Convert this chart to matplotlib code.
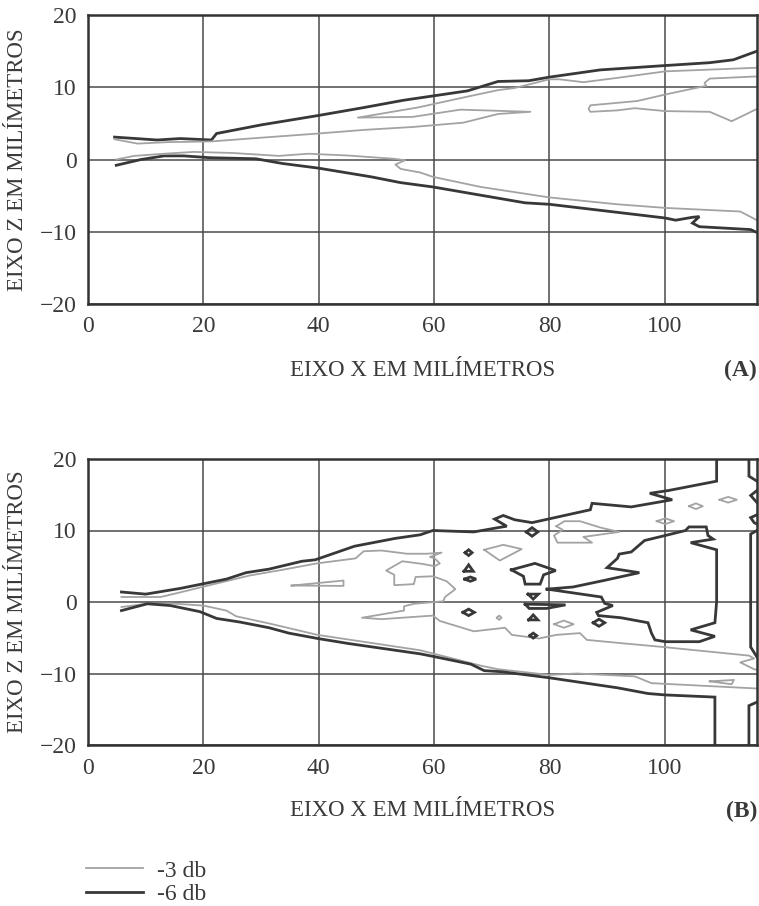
import matplotlib
matplotlib.use("Agg")
import matplotlib.pyplot as plt
from matplotlib.lines import Line2D
import numpy as np

plt.rcParams['font.family'] = ['Liberation Serif', 'DejaVu Serif']

# ---------------- data (x mm, z mm) ----------------
x_ticks = [0, 20, 40, 60, 80, 100]
z_ticks = [-20, -10, 0, 10, 20]
x_label = "EIXO X EM MILÍMETROS"
z_label = "EIXO Z EM MILÍMETROS"
legend_labels = ["-3 db", "-6 db"]

# Panel A
A_m6_upper = [(4.6, 3.1), (12, 2.7), (16, 2.9), (21.4, 2.7), (22.3, 3.6), (30.1, 4.8), (40, 6.1),
              (47.9, 7.2), (54.7, 8.2), (60.7, 8.9), (65.8, 9.5), (71.1, 10.8), (76.4, 10.9),
              (80, 11.4), (88.8, 12.4), (100, 13.0), (107.8, 13.4), (111.9, 13.8), (116, 15.0)]
A_m6_lower = [(4.9, -0.8), (9.2, 0), (13.2, 0.5), (16.6, 0.5), (21.1, 0.25), (29.1, 0.1), (33.7, -0.55),
              (40, -1.2), (49.1, -2.4), (54.2, -3.2), (59.8, -3.8), (75.8, -6.0), (80, -6.2),
              (100.1, -8.1), (101.9, -8.4), (104.8, -8.0), (106, -7.9), (104.8, -8.8), (106, -9.3),
              (114.9, -9.7), (116, -10.1)]
A_m3_upper = [(4.6, 2.8), (8.6, 2.2), (13.7, 2.4), (21.4, 2.5), (28, 2.9), (40, 3.6), (47.9, 4.1),
              (56.3, 4.5), (65.1, 5.1), (71.1, 6.3), (76.7, 6.6), (64.6, 6.9), (56.3, 5.9),
              (46.8, 5.8), (57.2, 7.2), (65.2, 8.6), (71.1, 9.6), (74, 9.9), (80, 11.1),
              (81.7, 11.1), (85.9, 10.7), (91.8, 11.3), (100.1, 12.2), (116, 12.7)]
A_m3_inner = [(116, 11.5), (107.8, 11.2), (106.9, 10.6), (107.2, 10.2), (100.1, 9.0), (95.3, 8.1),
              (87.1, 7.5), (86.8, 7.0), (87.1, 6.6), (91.8, 6.8), (94.8, 7.1), (100.1, 6.7),
              (107.8, 6.6), (111.6, 5.3), (116, 7.0)]
A_m3_lower = [(4.9, 0), (8, 0.5), (13.2, 0.8), (18.3, 1.05), (25.1, 0.9), (33.1, 0.5), (38.2, 0.8),
              (45.1, 0.55), (53, 0.1), (55, -0.1), (53.3, -0.7), (54.2, -1.3), (57.6, -1.8),
              (59.8, -2.4), (68.1, -3.8), (80, -5.25), (91.8, -6.2), (100.1, -6.7), (113.1, -7.2),
              (116, -8.4)]

# Panel B
B_m6_upper = [(5.8, 1.4), (10, 1.1), (16, 1.9), (20.3, 2.6), (24, 3.2), (27.4, 4.1), (31.4, 4.6),
              (37.1, 5.7), (39.4, 5.9), (46.2, 7.8), (53.3, 8.9), (57.6, 9.4), (59.8, 10.0),
              (66.9, 9.8), (71.1, 10.4), (72.6, 10.6), (70.5, 11.6), (72, 12.1), (74, 11.5),
              (77, 11.1), (87.1, 12.9), (87.4, 13.8), (94.2, 13.3), (101.3, 14.3), (97.4, 15.2),
              (100.7, 15.6), (109, 16.9), (109, 20)]
B_m6_lower = [(5.8, -1.2), (10.3, -0.25), (14.3, -0.5), (19.4, -1.35), (22.3, -2.3), (26.3, -2.8),
              (31.4, -3.6), (34.8, -4.35), (39.8, -5.1), (45.1, -5.8), (57.6, -7.25), (59.8, -7.6),
              (66.4, -8.7), (68.7, -9.6), (71.7, -9.75), (80, -10.6), (91.8, -12.0), (97.1, -12.8),
              (100.1, -13.0), (108.7, -13.3), (108.7, -20)]
B_m6_core = [(79.6, 1.8), (89, 0.7), (89.6, -0.2), (91, -0.5), (88.2, -1.45), (88.5, -1.9),
             (92.4, -2.2), (97.1, -2.9), (97.7, -4.35), (98.3, -5.3), (100.1, -5.55), (106, -5.55),
             (108.7, -4.8), (104.5, -3.9), (108.7, -2.9), (109, 0.05), (109, 7.3), (104.5, 8.3),
             (108.4, 8.8), (107.5, 9.3), (107.2, 10.5), (104.2, 10.5), (103.6, 10.0), (100.1, 9.3),
             (96.5, 8.6), (94.2, 7.0), (92.1, 6.7), (91.8, 6.1), (90, 4.8), (95.6, 4.1), (89.4, 3.0),
             (84.1, 2.1), (79.6, 1.8)]
B_m6_edge1 = [(114.6, 20), (114.6, 17.6), (116, 16.9)]
B_m6_edge2 = [(116, 15.6), (114.9, 14.9), (116, 13.9)]
B_m6_edge3 = [(116, 12.2), (114.9, 11.8), (115.5, 11.1), (116, 10.9)]
B_m6_edge4 = [(116, 10.0), (114.9, 9.5), (114.9, -6.3), (116, -7.7)]
B_m6_edge5 = [(116, -14.0), (114.6, -14.5), (114.6, -20)]
B_m6_isl1 = [(65.4, 6.9), (66.0, 7.3), (66.6, 6.9), (66.0, 6.5), (65.4, 6.9)]
B_m6_isl2 = [(65.2, 4.3), (66.0, 5.2), (66.8, 4.3), (65.2, 4.3)]
B_m6_isl3 = [(65.3, 3.2), (66.3, 3.5), (67.3, 3.2), (66.3, 2.9), (65.3, 3.2)]
B_m6_isl4 = [(65.0, -1.45), (66.0, -1.0), (67.0, -1.45), (66.0, -1.9), (65.0, -1.45)]
B_m6_isl5 = [(76.0, 9.8), (77.0, 10.4), (78.0, 9.8), (77.0, 9.2), (76.0, 9.8)]
B_m6_isl6 = [(73.4, 4.5), (77.5, 5.4), (81.1, 4.4), (79.0, 3.8), (78.4, 2.5), (75.8, 2.5),
             (75.5, 3.6), (73.4, 4.5)]
B_m6_isl7 = [(76.3, 1.1), (78.1, 1.1), (77.2, 0.4), (76.3, 1.1)]
B_m6_isl8 = [(75.8, -0.3), (82.8, -0.4), (79.5, -0.9), (76.5, -0.9), (75.8, -0.3)]
B_m6_isl9 = [(76.4, -2.5), (77.2, -1.8), (78.0, -2.5), (76.4, -2.5)]
B_m6_isl10 = [(76.6, -4.7), (77.2, -4.35), (77.8, -4.7), (77.2, -5.05), (76.6, -4.7)]
B_m6_isl11 = [(87.6, -2.9), (88.6, -2.4), (89.6, -2.9), (88.6, -3.4), (87.6, -2.9)]

B_m3_main = [(5.8, 0.7), (12.6, 0.7), (16, 1.35), (20.3, 2.2), (28, 3.7), (33.7, 4.5), (39.7, 5.4),
             (46.4, 6.1), (47.8, 7.1), (50.9, 7.2), (55.3, 6.75), (58.7, 6.75), (61.3, 6.9),
             (59.3, 6.3), (60.1, 6.1), (61, 5.4), (60.1, 5.0), (58.2, 5.3), (54.5, 5.7), (51.7, 4.4),
             (53.1, 3.8), (53.1, 2.35), (56.5, 2.5), (56.8, 3.5), (59.8, 3.6), (62.2, 2.9),
             (63.7, 1.8), (61.9, 0.7), (61.6, 0.1), (56.5, -0.25), (54.8, -0.6), (54.8, -1.2),
             (49.7, -1.9), (47.5, -2.2), (50.9, -2.4), (59.8, -1.9), (61, -2.65), (66.9, -4.1),
             (72.3, -3.6), (73.5, -4.6), (78.2, -5.1), (81.2, -4.6), (85.3, -4.35), (86.5, -5.3),
             (93, -5.8), (99.8, -6.3), (106.6, -6.85), (114.6, -7.5), (115.5, -7.9), (113.1, -8.45),
             (115.5, -9.4), (116, -9.5)]
B_m3_lower = [(5.8, -0.7), (10.3, -0.25), (14.3, -0.2), (20, -0.5), (24, -1.2), (25.7, -2.0),
              (31.4, -3.0), (39.8, -4.6), (57.6, -6.75), (68.1, -8.9), (71.1, -9.4), (80, -10.2),
              (84.7, -10.0), (94.8, -10.4), (97.7, -11.35), (116, -12.1)]
B_m3_isl1 = [(35.3, 2.3), (44.3, 3.0), (44.3, 2.25), (35.3, 2.3)]
B_m3_isl2 = [(68.7, 7.3), (72.0, 8.0), (75.2, 7.4), (71.4, 5.8), (68.7, 7.3)]
B_m3_isl3 = [(81.2, 10.6), (82.6, 11.3), (85.3, 11.3), (88.9, 10.4), (92.1, 9.8), (85.9, 9.1),
             (87.4, 8.3), (81.4, 8.3), (80.8, 9.3), (82.3, 10.1), (81.2, 10.6)]
B_m3_isl4 = [(70.9, -2.2), (71.3, -1.9), (71.7, -2.2), (71.3, -2.5), (70.9, -2.2)]
B_m3_isl5 = [(80.8, -3.1), (82.5, -2.6), (84.2, -3.1), (82.5, -3.6), (80.8, -3.1)]
B_m3_isl6 = [(98.6, 11.3), (100.1, 11.7), (101.6, 11.3), (100.1, 10.9), (98.6, 11.3)]
B_m3_isl7 = [(104.2, 13.4), (105.4, 13.8), (106.6, 13.4), (105.4, 13.0), (104.2, 13.4)]
B_m3_isl8 = [(109.5, 14.3), (111.0, 14.7), (112.5, 14.3), (111.0, 13.9), (109.5, 14.3)]
B_m3_isl9 = [(107.8, -11.1), (112.0, -10.9), (111.6, -11.5), (107.8, -11.1)]

# ---------------- style ----------------
W, H = 759, 906
DARK = '#383838'
LIGHT = '#a3a3a3'
GRID = '#4a4a4a'
TXT = '#3a3a3a'
LW_D = 2.0
LW_L = 1.3

panelA_lines = [(A_m6_upper, 'd'), (A_m6_lower, 'd'), (A_m3_upper, 'l'), (A_m3_inner, 'l'),
                (A_m3_lower, 'l')]
panelB_lines = [(B_m3_main, 'l'), (B_m3_lower, 'l'), (B_m3_isl1, 'l'), (B_m3_isl2, 'l'),
                (B_m3_isl3, 'l'), (B_m3_isl4, 'l'), (B_m3_isl5, 'l'), (B_m3_isl6, 'l'),
                (B_m3_isl7, 'l'), (B_m3_isl8, 'l'), (B_m3_isl9, 'l'),
                (B_m6_upper, 'd'), (B_m6_lower, 'd'), (B_m6_core, 'd'),
                (B_m6_edge1, 'd'), (B_m6_edge2, 'd'), (B_m6_edge3, 'd'), (B_m6_edge4, 'd'),
                (B_m6_edge5, 'd'), (B_m6_isl1, 'd'), (B_m6_isl2, 'd'), (B_m6_isl3, 'd'),
                (B_m6_isl4, 'd'), (B_m6_isl5, 'd'), (B_m6_isl6, 'd'), (B_m6_isl7, 'd'),
                (B_m6_isl8, 'd'), (B_m6_isl9, 'd'), (B_m6_isl10, 'd'), (B_m6_isl11, 'd')]

fig = plt.figure(figsize=(W / 100, H / 100), dpi=100)
fig.patch.set_facecolor('white')


def make_axes(top, bottom):
    left, right = 88, 757
    ax = fig.add_axes([left / W, 1 - bottom / H, (right - left) / W, (bottom - top) / H])
    ax.set_xlim(0, 116)
    ax.set_ylim(-20, 20)
    ax.set_xticks(x_ticks)
    ax.set_yticks(z_ticks)
    ax.grid(True, color=GRID, linewidth=1.1)
    ax.set_axisbelow(True)
    ax.tick_params(length=0, labelsize=17, colors=TXT, pad=9)
    ax.tick_params(axis='y', pad=8)
    for s in ax.spines.values():
        s.set_color('#333333')
        s.set_linewidth(1.8)
    return ax, bottom - top


def draw(ax, lines):
    for pts, kind in lines:
        arr = np.array(pts)
        if kind == 'd':
            ax.plot(arr[:, 0], arr[:, 1], color=DARK, lw=LW_D, solid_joinstyle='miter', clip_on=True)
        else:
            ax.plot(arr[:, 0], arr[:, 1], color=LIGHT, lw=LW_L, clip_on=True)


axA, hA = make_axes(15, 304)
draw(axA, panelA_lines)
axB, hB = make_axes(459, 745)
draw(axB, panelB_lines)

for ax, h, tag in [(axA, hA, '(A)'), (axB, hB, '(B)')]:
    ax.text(0.5, -66 / h, x_label, transform=ax.transAxes, ha='center', va='center',
            fontsize=16.5, color=TXT)
    ax.text(1.0, -66 / h, tag, transform=ax.transAxes, ha='right', va='center',
            fontsize=17, fontweight='bold', color=TXT)
    ax.text((18 - 88) / 669, 0.5, z_label, transform=ax.transAxes, ha='center', va='center',
            rotation=90, fontsize=16.5, color=TXT)

handles = [Line2D([], [], color=LIGHT, lw=LW_L), Line2D([], [], color=DARK, lw=LW_D)]
fig.legend(handles, legend_labels, loc='upper left', bbox_to_anchor=(86 / W, 1 - 860 / H),
           frameon=False, fontsize=17, handlelength=2.4, handletextpad=0.6,
           labelspacing=0.1, borderpad=0, borderaxespad=0, labelcolor=TXT)

fig.savefig('out.png', dpi=100, facecolor='white')
